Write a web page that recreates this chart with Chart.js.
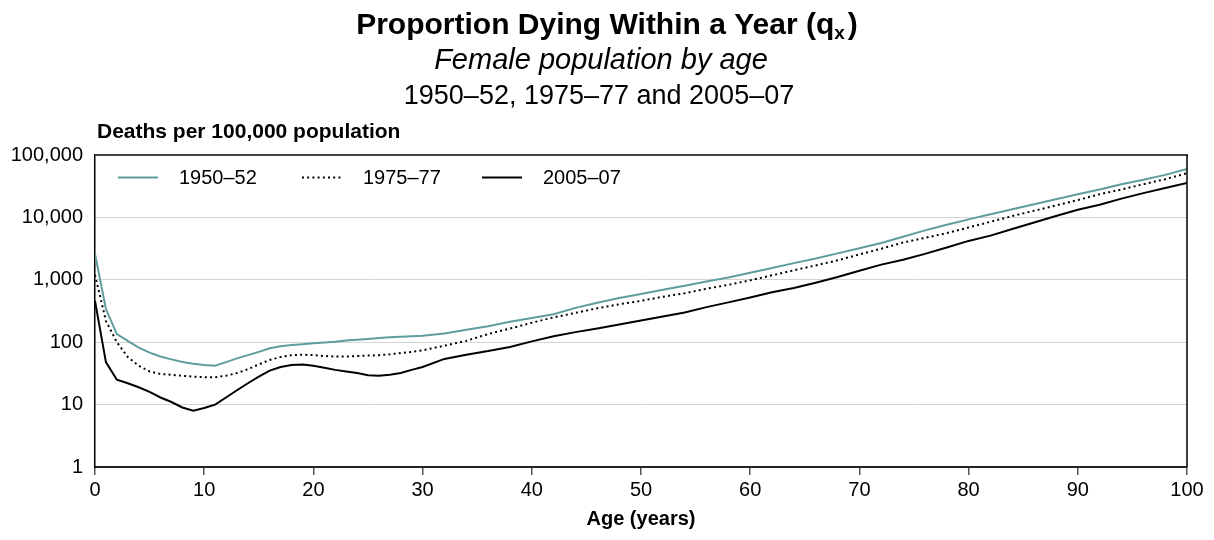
<!DOCTYPE html>
<html>
<head>
<meta charset="utf-8">
<script src="https://cdn.jsdelivr.net/npm/chart.js@4.4.1/dist/chart.umd.min.js"></script>
<style>
  html, body { margin: 0; padding: 0; background: #fff; }
  #wrap { position: relative; width: 1214px; height: 540px; }
</style>
</head>
<body>
<div id="wrap"><canvas id="chart" width="1214" height="540"></canvas></div>
<script>

// ages (years): single years to 30, then every 2 years
const ages = [0, 1, 2, 3, 4, 5, 6, 7, 8, 9, 10, 11, 12, 13, 14, 15, 16, 17, 18, 19, 20,
  21, 22, 23, 24, 25, 26, 27, 28, 29, 30,
  32, 34, 36, 38, 40, 42, 44, 46, 48, 50, 52, 54, 56, 58, 60, 62, 64, 66, 68, 70,
  72, 74, 76, 78, 80, 82, 84, 86, 88, 90, 92, 94, 96, 98, 100];

// deaths per 100,000 population
const q1950 = [2600, 340, 135, 105, 82, 68, 59, 53, 48, 45, 43, 42, 48, 55, 62, 70, 80, 86, 90, 93, 96,
  99, 102, 106, 109, 113, 117, 120, 122, 124, 127,
  138, 158, 180, 212, 245, 280, 355, 430, 510, 590, 690, 800, 940, 1090, 1300, 1540, 1850, 2200, 2650, 3200,
  3900, 4900, 6200, 7600, 9300, 11200, 13500, 16200, 19500, 23500, 28000, 34000, 40000, 48000, 60000];

const q1975 = [1200, 220, 100, 58, 42, 34, 31, 30, 29, 28, 27.5, 27.5, 29, 32, 37, 44, 52, 58, 62, 63, 62,
  60, 59, 59, 60, 61, 62, 64, 67, 70, 74,
  88, 105, 135, 165, 205, 250, 295, 350, 405, 460, 535, 610, 720, 830, 980, 1180, 1420, 1700, 2050, 2550,
  3150, 3950, 4700, 5600, 6900, 8500, 10500, 12800, 15500, 19000, 23500, 28000, 34000, 41000, 51000];

const q2005 = [460, 48, 25, 22, 19, 16, 13, 11, 9, 8, 8.8, 10, 13, 17, 22, 28, 35, 40, 43, 44, 42,
  39, 36, 34, 32, 29.5, 29, 30, 32, 36, 40,
  54, 63, 72, 84, 103, 125, 145, 166, 192, 222, 258, 300, 365, 435, 520, 630, 740, 900, 1110, 1400,
  1750, 2100, 2600, 3300, 4200, 5100, 6500, 8300, 10500, 13300, 16000, 20000, 24500, 29500, 35500];

const seriesNames = ['1950–52', '1975–77', '2005–07'];
const yTickValues = [1, 10, 100, 1000, 10000, 100000];
const xTickValues = [0, 10, 20, 30, 40, 50, 60, 70, 80, 90, 100];

const FONT = '"Liberation Sans", Arial, Helvetica, sans-serif';
const TEAL = '#5f9d9d';

function points(values) {
  return ages.map((a, i) => ({ x: a, y: values[i] }));
}

// headings, y label, frame and legend drawn on the canvas
const decorPlugin = {
  id: 'decor',
  afterDraw(chart) {
    const ctx = chart.ctx;
    const area = chart.chartArea;
    ctx.save();
    ctx.fillStyle = '#000';
    ctx.textBaseline = 'alphabetic';

    // title with subscript x
    const main = 'Proportion Dying Within a Year (q';
    ctx.font = `bold 30px ${FONT}`;
    const w1 = ctx.measureText(main).width;
    const w3 = ctx.measureText(')').width;
    ctx.font = `bold 19px ${FONT}`;
    const w2 = ctx.measureText('x').width;
    const gap = 3;
    let x = 607 - (w1 + w2 + gap + w3) / 2;
    ctx.font = `bold 30px ${FONT}`;
    ctx.textAlign = 'left';
    ctx.fillText(main, x, 34);
    ctx.font = `bold 19px ${FONT}`;
    ctx.fillText('x', x + w1, 39);
    ctx.font = `bold 30px ${FONT}`;
    ctx.fillText(')', x + w1 + w2 + gap, 34);

    ctx.textAlign = 'center';
    ctx.font = `italic 29px ${FONT}`;
    ctx.fillText('Female population by age', 601, 69);
    ctx.font = `27px ${FONT}`;
    ctx.fillText('1950–52, 1975–77 and 2005–07', 599, 104);

    // y axis label
    ctx.textAlign = 'left';
    ctx.font = `bold 21px ${FONT}`;
    ctx.fillText('Deaths per 100,000 population', 97, 138);

    // top and right frame
    ctx.lineCap = 'butt';
    ctx.strokeStyle = '#444';
    ctx.lineWidth = 2;
    ctx.beginPath();
    ctx.moveTo(area.left, area.top);
    ctx.lineTo(area.right + 1, area.top);
    ctx.stroke();
    ctx.strokeStyle = '#000';
    ctx.lineWidth = 1.5;
    ctx.beginPath();
    ctx.moveTo(area.right, area.top);
    ctx.lineTo(area.right, area.bottom);
    ctx.stroke();

    // legend inside the plot
    const ly = 177.5;
    const starts = [118, 302, 482];
    ctx.font = `20px ${FONT}`;
    ctx.textBaseline = 'middle';
    chart.data.datasets.forEach((ds, i) => {
      const sx = starts[i];
      ctx.strokeStyle = ds.borderColor;
      ctx.lineWidth = ds.borderWidth;
      ctx.setLineDash(ds.borderDash || []);
      ctx.beginPath();
      ctx.moveTo(sx, ly);
      ctx.lineTo(sx + 40, ly);
      ctx.stroke();
      ctx.setLineDash([]);
      ctx.fillStyle = '#000';
      ctx.fillText(ds.label, sx + 61, ly + 1);
    });
    ctx.restore();
  }
};

new Chart(document.getElementById('chart'), {
  type: 'line',
  data: {
    datasets: [
      { label: seriesNames[0], data: points(q1950), borderColor: TEAL, borderWidth: 2, pointRadius: 0, tension: 0 },
      { label: seriesNames[1], data: points(q1975), borderColor: '#000', borderWidth: 2, borderDash: [2, 3.2], pointRadius: 0, tension: 0 },
      { label: seriesNames[2], data: points(q2005), borderColor: '#000', borderWidth: 2, pointRadius: 0, tension: 0 }
    ]
  },
  options: {
    responsive: false,
    animation: false,
    layout: { padding: { top: 155, right: 27, left: 0, bottom: 0 } },
    plugins: { legend: { display: false }, tooltip: { enabled: false } },
    scales: {
      x: {
        type: 'linear',
        min: 0,
        max: 100,
        afterBuildTicks: s => { s.ticks = xTickValues.map(v => ({ value: v })); },
        afterFit: s => { s.height = 73; },
        grid: { drawOnChartArea: false, drawTicks: true, tickLength: 8, color: '#555', lineWidth: 1.5 },
        border: { display: true, color: '#222', width: 2 },
        ticks: { color: '#000', font: { family: FONT, size: 20 }, padding: 3, maxRotation: 0 },
        title: { display: true, text: 'Age (years)', color: '#000', font: { family: FONT, size: 20, weight: 'bold' }, padding: { top: 0, bottom: 9 } }
      },
      y: {
        type: 'logarithmic',
        min: 1,
        max: 100000,
        afterBuildTicks: s => { s.ticks = yTickValues.map(v => ({ value: v })); },
        afterFit: s => { s.width = 95; },
        grid: { color: '#d4d4d4', lineWidth: 1, drawTicks: false },
        border: { color: '#000', width: 1.5 },
        ticks: { color: '#000', font: { family: FONT, size: 20 }, padding: 12, callback: v => Number(v).toLocaleString('en-US') }
      }
    }
  },
  plugins: [decorPlugin]
});
</script>
</body>
</html>
